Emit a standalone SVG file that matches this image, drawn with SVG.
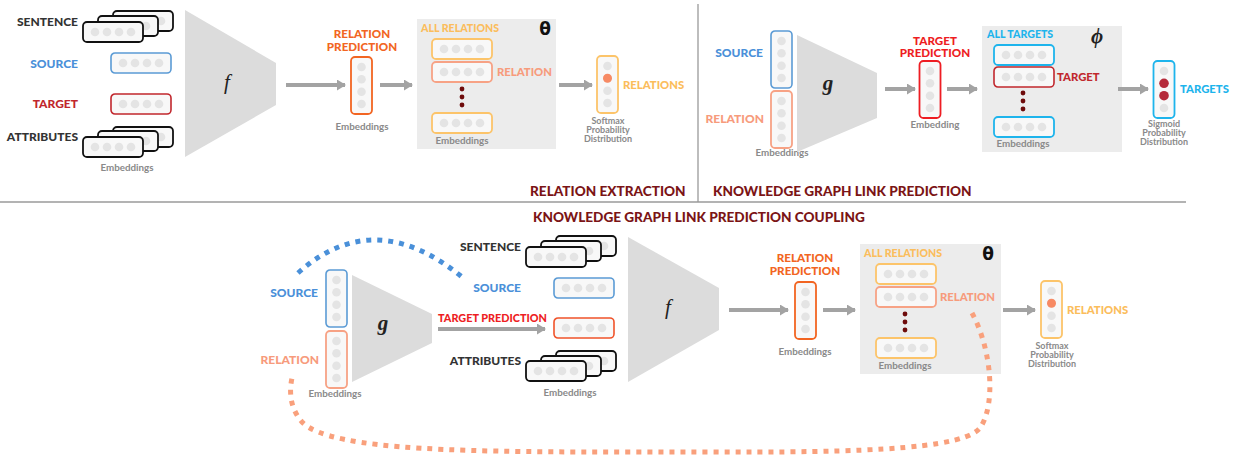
<svg xmlns="http://www.w3.org/2000/svg" xmlns:xlink="http://www.w3.org/1999/xlink" width="1233" height="461" viewBox="0 0 1233 461">
  <style>
    text { font-family: Lato, "Liberation Sans", sans-serif; font-weight: 900; }
    .lbl { font-size: 12px; }
    .mid { font-size: 11.3px; }
    .all { font-size: 10.6px; }
    .pred { font-size: 11.6px; text-anchor: middle; }
    .tpred { font-size: 10.6px; }
    .small { font-size: 9.8px; font-weight: 700; fill: #8a8a8a; text-anchor: middle; }
    .tiny { font-size: 9px; font-weight: 700; fill: #8a8a8a; text-anchor: middle; }
    .title { font-size: 13.6px; fill: #7b1416; }
    .dark { fill: #333333; }
    .blue { fill: #4a90d9; }
    .dred { fill: #c1272d; }
    .orange { fill: #f26522; }
    .yellow { fill: #fbbd5c; }
    .salmon { fill: #f79b7c; }
    .red { fill: #ee1d23; }
    .cyan { fill: #1eb4ec; }
    .math { font-family: "Liberation Serif", "DejaVu Serif", serif; font-style: italic; font-weight: 400; font-size: 21px; fill: #222; text-anchor: middle; }
    .bold { font-weight: 700; }
    .greek { font-family: "DejaVu Sans", sans-serif; font-weight: 700; font-size: 17px; fill: #111; text-anchor: middle; }
    .trap { fill: #dcdcdc; }
    .panel { fill: #ececec; }
    .arrow { stroke: #a3a3a3; stroke-width: 4; fill: none; marker-end: url(#head); }
    .k { stroke: #111; stroke-width: 1.8; }
    .sB { stroke: #5b9bd5; stroke-width: 1.6; }
    .sDR { stroke: #c1272d; stroke-width: 1.6; }
    .sO { stroke: #f26522; stroke-width: 1.8; }
    .sY { stroke: #fcc46a; stroke-width: 1.8; }
    .sS { stroke: #f7a285; stroke-width: 1.8; }
    .sR { stroke: #ee1d23; stroke-width: 1.8; }
    .sOR { stroke: #f0532a; stroke-width: 1.6; }
    .sC { stroke: #1eb4ec; stroke-width: 1.8; }
    .ell { fill: #6e0b0b; }
  </style>
  <defs>
    <marker id="head" viewBox="0 0 9 11" refX="8" refY="5.5" markerWidth="9" markerHeight="11" markerUnits="userSpaceOnUse" orient="auto">
      <path d="M0,0 L9,5.5 L0,11 z" fill="#a3a3a3"/>
    </marker>
    <!-- horizontal embedding: rounded box with four dots -->
    <g id="hbox">
      <rect x="0" y="0" width="60" height="20" rx="4" fill="#f8f8f8"/>
      <circle cx="12" cy="10" r="4.3" fill="#e4e4e4" stroke="none"/>
      <circle cx="24" cy="10" r="4.3" fill="#e4e4e4" stroke="none"/>
      <circle cx="36" cy="10" r="4.3" fill="#e4e4e4" stroke="none"/>
      <circle cx="48" cy="10" r="4.3" fill="#e4e4e4" stroke="none"/>
    </g>
    <!-- vertical embedding -->
    <g id="vbox">
      <rect x="0" y="0" width="21" height="57" rx="4" fill="#f8f8f8"/>
      <circle cx="10.5" cy="10" r="4.3" fill="#e4e4e4" stroke="none"/>
      <circle cx="10.5" cy="22.3" r="4.3" fill="#e4e4e4" stroke="none"/>
      <circle cx="10.5" cy="34.7" r="4.3" fill="#e4e4e4" stroke="none"/>
      <circle cx="10.5" cy="47" r="4.3" fill="#e4e4e4" stroke="none"/>
    </g>
  </defs>

  <!-- section dividers -->
  <g id="dividers" stroke="#9a9a9a" stroke-width="1.3">
    <line x1="698" y1="4" x2="698" y2="202"/>
    <line x1="0" y1="202" x2="1186" y2="202"/>
  </g>

  <!-- ===== Relation extraction ===== -->
  <g id="re-inputs">
    <text class="lbl dark" x="78" y="26" text-anchor="end">SENTENCE</text>
    <use xlink:href="#hbox" class="k" x="113" y="11"/>
    <use xlink:href="#hbox" class="k" x="98" y="16"/>
    <use xlink:href="#hbox" class="k" x="83" y="22"/>
    <text class="lbl blue" x="78" y="68" text-anchor="end">SOURCE</text>
    <use xlink:href="#hbox" class="sB" x="111" y="53"/>
    <text class="lbl dred" x="78" y="108" text-anchor="end">TARGET</text>
    <use xlink:href="#hbox" class="sDR" x="111" y="94"/>
    <text class="lbl dark" x="78" y="141" text-anchor="end">ATTRIBUTES</text>
    <use xlink:href="#hbox" class="k" x="113" y="127"/>
    <use xlink:href="#hbox" class="k" x="98" y="131"/>
    <use xlink:href="#hbox" class="k" x="83" y="137"/>
    <text class="small" x="127" y="171">Embeddings</text>
  </g>
  <g id="re-encoder">
    <polygon class="trap" points="185,10 276,63 276,105 185,157"/>
    <text class="math" x="227" y="89">f</text>
  </g>
  <g id="re-prediction">
    <text class="pred orange" x="362" y="38">RELATION</text>
    <text class="pred orange" x="362" y="51">PREDICTION</text>
    <use xlink:href="#vbox" class="sO" x="351" y="57"/>
    <text class="small" x="362" y="130">Embeddings</text>
  </g>
  <g id="re-relations">
    <rect class="panel" x="417" y="19" width="139" height="130"/>
    <text class="all yellow" x="421" y="32">ALL RELATIONS</text>
    <text class="greek" x="545" y="35">θ</text>
    <use xlink:href="#hbox" class="sY" x="432" y="39"/>
    <use xlink:href="#hbox" class="sS" x="432" y="62"/>
    <text class="mid salmon" x="497" y="76">RELATION</text>
    <circle class="ell" cx="462" cy="89" r="2.4"/>
    <circle class="ell" cx="462" cy="97" r="2.4"/>
    <circle class="ell" cx="462" cy="105" r="2.4"/>
    <use xlink:href="#hbox" class="sY" x="432" y="113"/>
    <text class="small" x="462" y="144">Embeddings</text>
  </g>
  <g id="re-output">
    <use xlink:href="#vbox" class="sY" x="597" y="56"/>
    <circle cx="607.5" cy="78.3" r="4.5" fill="#f78a64"/>
    <text class="mid yellow" x="623" y="89">RELATIONS</text>
    <text class="tiny" x="608" y="124">Softmax</text>
    <text class="tiny" x="608" y="133">Probability</text>
    <text class="tiny" x="608" y="142">Distribution</text>
  </g>
  <text id="re-title" class="title" x="530" y="196">RELATION EXTRACTION</text>

  <!-- ===== Knowledge graph link prediction ===== -->
  <g id="kg-inputs">
    <text class="lbl blue" x="763" y="57" text-anchor="end">SOURCE</text>
    <use xlink:href="#vbox" class="sB" x="771" y="31"/>
    <text class="lbl salmon" x="764" y="123" text-anchor="end">RELATION</text>
    <use xlink:href="#vbox" class="sS" x="771" y="91"/>
    <text class="small" x="782" y="156">Embeddings</text>
  </g>
  <g id="kg-encoder">
    <polygon class="trap" points="797,35 877,73 877,118 797,152"/>
    <text class="math bold" x="828" y="90">g</text>
  </g>
  <g id="kg-prediction">
    <text class="pred red" x="935" y="45" font-size="10.8">TARGET</text>
    <text class="pred red" x="935" y="57" font-size="10.8">PREDICTION</text>
    <use xlink:href="#vbox" class="sR" x="919.5" y="61"/>
    <text class="small" x="935" y="128">Embedding</text>
  </g>
  <g id="kg-targets">
    <rect class="panel" x="982" y="26" width="140" height="126"/>
    <text class="all cyan" x="987" y="38">ALL TARGETS</text>
    <text class="math bold" x="1097" y="43">ϕ</text>
    <use xlink:href="#hbox" class="sC" x="994" y="45"/>
    <use xlink:href="#hbox" class="sDR" x="994" y="67"/>
    <text class="mid dred" x="1057" y="81">TARGET</text>
    <circle class="ell" cx="1023" cy="93" r="2.4"/>
    <circle class="ell" cx="1023" cy="101" r="2.4"/>
    <circle class="ell" cx="1023" cy="109" r="2.4"/>
    <use xlink:href="#hbox" class="sC" x="994" y="117"/>
    <text class="small" x="1023" y="147">Embeddings</text>
  </g>
  <g id="kg-output">
    <use xlink:href="#vbox" class="sC" x="1153.5" y="61"/>
    <circle cx="1164" cy="83.3" r="4.8" fill="#b52a3a"/>
    <circle cx="1164" cy="95.7" r="4.8" fill="#b52a3a"/>
    <text class="mid cyan" x="1180" y="93">TARGETS</text>
    <text class="tiny" x="1164" y="127">Sigmoid</text>
    <text class="tiny" x="1164" y="136">Probability</text>
    <text class="tiny" x="1164" y="145">Distribution</text>
  </g>
  <text id="kg-title" class="title" x="713" y="196">KNOWLEDGE GRAPH LINK PREDICTION</text>

  <!-- ===== Coupling ===== -->
  <text id="cp-title" class="title" x="533" y="222">KNOWLEDGE GRAPH LINK PREDICTION COUPLING</text>
  <g id="cp-kg-inputs">
    <text class="lbl blue" x="318" y="297" text-anchor="end">SOURCE</text>
    <use xlink:href="#vbox" class="sB" x="326" y="270"/>
    <text class="lbl salmon" x="319" y="364" text-anchor="end">RELATION</text>
    <use xlink:href="#vbox" class="sS" x="326" y="331"/>
    <text class="small" x="335" y="397">Embeddings</text>
  </g>
  <g id="cp-kg-encoder">
    <polygon class="trap" points="352,275 432,314 432,343 352,382"/>
    <text class="math bold" x="383" y="330">g</text>
  </g>
  <text id="cp-target-pred" class="tpred red" x="438" y="322" textLength="109" lengthAdjust="spacingAndGlyphs">TARGET PREDICTION</text>
  <g id="cp-re-inputs">
    <text class="lbl dark" x="521" y="251" text-anchor="end">SENTENCE</text>
    <use xlink:href="#hbox" class="k" x="556" y="236"/>
    <use xlink:href="#hbox" class="k" x="541" y="241"/>
    <use xlink:href="#hbox" class="k" x="526" y="247"/>
    <text class="lbl blue" x="521" y="292" text-anchor="end">SOURCE</text>
    <use xlink:href="#hbox" class="sB" x="554" y="278"/>
    <use xlink:href="#hbox" class="sOR" x="554" y="318"/>
    <text class="lbl dark" x="521" y="365" text-anchor="end">ATTRIBUTES</text>
    <use xlink:href="#hbox" class="k" x="556" y="351"/>
    <use xlink:href="#hbox" class="k" x="541" y="356"/>
    <use xlink:href="#hbox" class="k" x="526" y="361"/>
    <text class="small" x="570" y="396">Embeddings</text>
  </g>
  <g id="cp-re-encoder">
    <polygon class="trap" points="628,237 719,288 719,330 628,382"/>
    <text class="math" x="668" y="314">f</text>
  </g>
  <g id="cp-prediction">
    <text class="pred orange" x="805" y="262">RELATION</text>
    <text class="pred orange" x="805" y="275">PREDICTION</text>
    <use xlink:href="#vbox" class="sO" x="795" y="282"/>
    <text class="small" x="805" y="355">Embeddings</text>
  </g>
  <g id="cp-relations">
    <rect class="panel" x="860" y="244" width="141" height="130"/>
    <text class="all yellow" x="864" y="257">ALL RELATIONS</text>
    <text class="greek" x="988" y="260">θ</text>
    <use xlink:href="#hbox" class="sY" x="876" y="264"/>
    <use xlink:href="#hbox" class="sS" x="876" y="287"/>
    <text class="mid salmon" x="940" y="301">RELATION</text>
    <circle class="ell" cx="905" cy="314" r="2.4"/>
    <circle class="ell" cx="905" cy="322" r="2.4"/>
    <circle class="ell" cx="905" cy="330" r="2.4"/>
    <use xlink:href="#hbox" class="sY" x="876" y="338"/>
    <text class="small" x="905" y="369">Embeddings</text>
  </g>
  <g id="cp-output">
    <use xlink:href="#vbox" class="sY" x="1041" y="281"/>
    <circle cx="1051.5" cy="303.3" r="4.5" fill="#f78a64"/>
    <text class="mid yellow" x="1067" y="314">RELATIONS</text>
    <text class="tiny" x="1052" y="349">Softmax</text>
    <text class="tiny" x="1052" y="358">Probability</text>
    <text class="tiny" x="1052" y="367">Distribution</text>
  </g>

  <!-- connectors -->
  <g id="connectors">
    <line class="arrow" x1="286" y1="85" x2="345" y2="85"/>
    <line class="arrow" x1="380" y1="85" x2="412" y2="85"/>
    <line class="arrow" x1="559" y1="85" x2="592" y2="85"/>
    <line class="arrow" x1="885" y1="89" x2="915" y2="89"/>
    <line class="arrow" x1="947" y1="89" x2="977" y2="89"/>
    <line class="arrow" x1="1118" y1="89" x2="1148" y2="89"/>
    <line class="arrow" x1="438" y1="329" x2="545" y2="329"/>
    <line class="arrow" x1="729" y1="310" x2="788" y2="310"/>
    <line class="arrow" x1="823" y1="310" x2="855" y2="310"/>
    <line class="arrow" x1="1003" y1="310" x2="1035" y2="310"/>
    <path d="M298,273 Q374,205 462,277" fill="none" stroke="#4a90d9" stroke-width="5" stroke-dasharray="5 6"/>
    <path d="M972,313 C992,350 996,405 980,428 C958,455 800,452 640,452 C480,452 330,452 302,422 C290,408 289,392 292,378" fill="none" stroke="#f9a07c" stroke-width="5" stroke-dasharray="5 6"/>
  </g>
</svg>
